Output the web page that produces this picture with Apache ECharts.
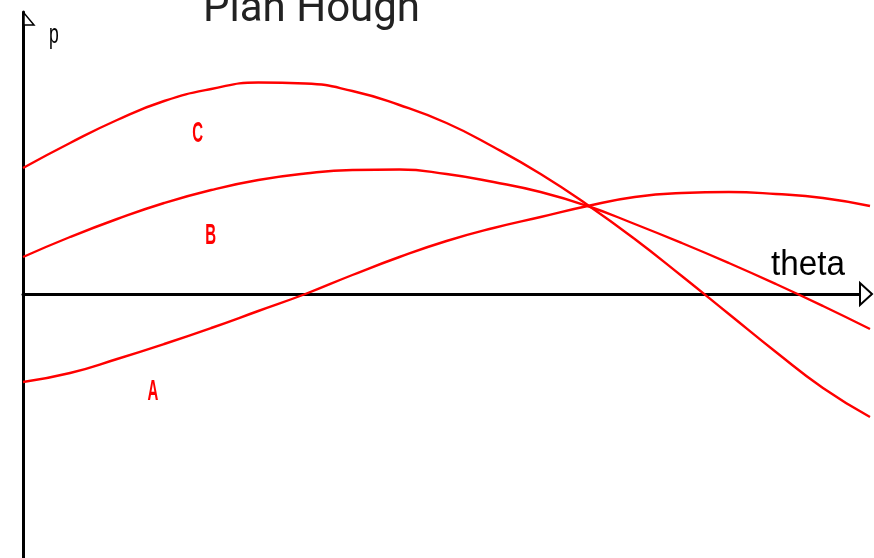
<!DOCTYPE html>
<html>
<head>
<meta charset="utf-8">
<script src="https://cdn.jsdelivr.net/npm/echarts@6/dist/echarts.min.js"></script>
<style>
  html, body { margin: 0; padding: 0; background: #fff; }
  #chart { width: 874px; height: 558px; }
</style>
</head>
<body>
<div id="chart"></div>
<script>
// Hough space: each point (x, y) becomes the curve p = x·cos(theta) + y·sin(theta)
const thetaDeg = [0, 10, 20, 30, 40, 50, 60, 70, 80, 90, 100, 110, 120, 130, 140, 150, 160, 170, 180];
const curveA = [-88, -79, -65, -50, -34, -17, 0, 19, 37, 53, 66, 77, 88, 97, 101, 102, 100, 96, 88];
const curveB = [37, 57, 75, 91, 104, 114, 120.5, 124, 124.5, 120, 112, 102, 88, 70, 51, 31, 10, -12, -35];
const curveC = [126, 151, 174, 193, 205, 211.5, 210.5, 203, 189, 171, 147, 120, 89, 55, 18, -20, -58, -94, -123];
const curveNames = ['A', 'B', 'C'];
const titleText = 'Plan Hough';
const xAxisName = 'theta';
const yAxisName = 'p';

// where each curve's letter sits, in (theta, p)
const letterAnchors = { A: [27.6, -98], B: [39.9, 58], C: [37.1, 160] };

const RED = '#ff0000';
const chart = echarts.init(document.getElementById('chart'), null, { renderer: 'canvas' });

function pairs(vals) { return thetaDeg.map((t, i) => [t, vals[i]]); }

const option = {
  animation: false,
  backgroundColor: '#ffffff',
  title: {
    text: titleText,
    left: 198,
    top: -16,
    textStyle: { fontFamily: 'Roboto', fontSize: 42, fontWeight: 'normal', color: '#222' }
  },
  grid: { left: 23, right: 4, top: 12, bottom: 0, containLabel: false },
  xAxis: {
    type: 'value', min: 0, max: 180,
    axisLine: { onZero: true, lineStyle: { color: '#000', width: 3 } },
    axisTick: { show: false }, axisLabel: { show: false }, splitLine: { show: false }
  },
  yAxis: {
    type: 'value', min: -264, max: 282,
    axisLine: { onZero: true, lineStyle: { color: '#000', width: 3 } },
    axisTick: { show: false }, axisLabel: { show: false }, splitLine: { show: false }
  },
  series: [curveA, curveB, curveC].map((vals, i) => ({
    name: curveNames[i],
    type: 'line',
    data: pairs(vals),
    smooth: 0.5,
    showSymbol: false,
    lineStyle: { color: RED, width: 2.4 },
    z: 3
  }))
};
chart.setOption(option);

// axis arrows, axis names and curve letters placed from the grid's own scale
const origin = chart.convertToPixel({ gridIndex: 0 }, [0, 0]);
const xEnd = chart.convertToPixel({ gridIndex: 0 }, [180, 0]);
const yTop = chart.convertToPixel({ gridIndex: 0 }, [0, 282]);

const graphics = [
  {
    type: 'polygon', z: 10,
    shape: { points: [[xEnd[0] - 10, origin[1] - 11], [xEnd[0] - 10, origin[1] + 11], [xEnd[0] + 2, origin[1]]] },
    style: { fill: '#fff', stroke: '#000', lineWidth: 2 }
  },
  {
    type: 'polygon', z: 10,
    shape: { points: [[yTop[0] + 1, yTop[1] + 1], [yTop[0] + 1, yTop[1] + 13], [yTop[0] + 11, yTop[1] + 13]] },
    style: { fill: '#fff', stroke: '#000', lineWidth: 1.5 }
  },
  {
    type: 'text', z: 10, x: 771, y: 283,
    style: { text: xAxisName, fill: '#000', font: '35px "Liberation Sans"', textVerticalAlign: 'bottom' },
    scaleX: 0.95
  },
  {
    type: 'text', z: 10, x: 49, y: 49,
    style: { text: yAxisName, fill: '#000', font: '27px "Liberation Sans"', textVerticalAlign: 'bottom' },
    scaleX: 0.65
  }
];
curveNames.forEach(n => {
  const p = chart.convertToPixel({ gridIndex: 0 }, letterAnchors[n]);
  graphics.push({
    type: 'text', z: 10, x: p[0], y: p[1],
    scaleX: 0.5,
    style: { text: n, fill: RED, font: 'bold 30px "Liberation Sans"', textAlign: 'center', textVerticalAlign: 'middle' }
  });
});
chart.setOption({ graphic: graphics });
</script>
</body>
</html>
